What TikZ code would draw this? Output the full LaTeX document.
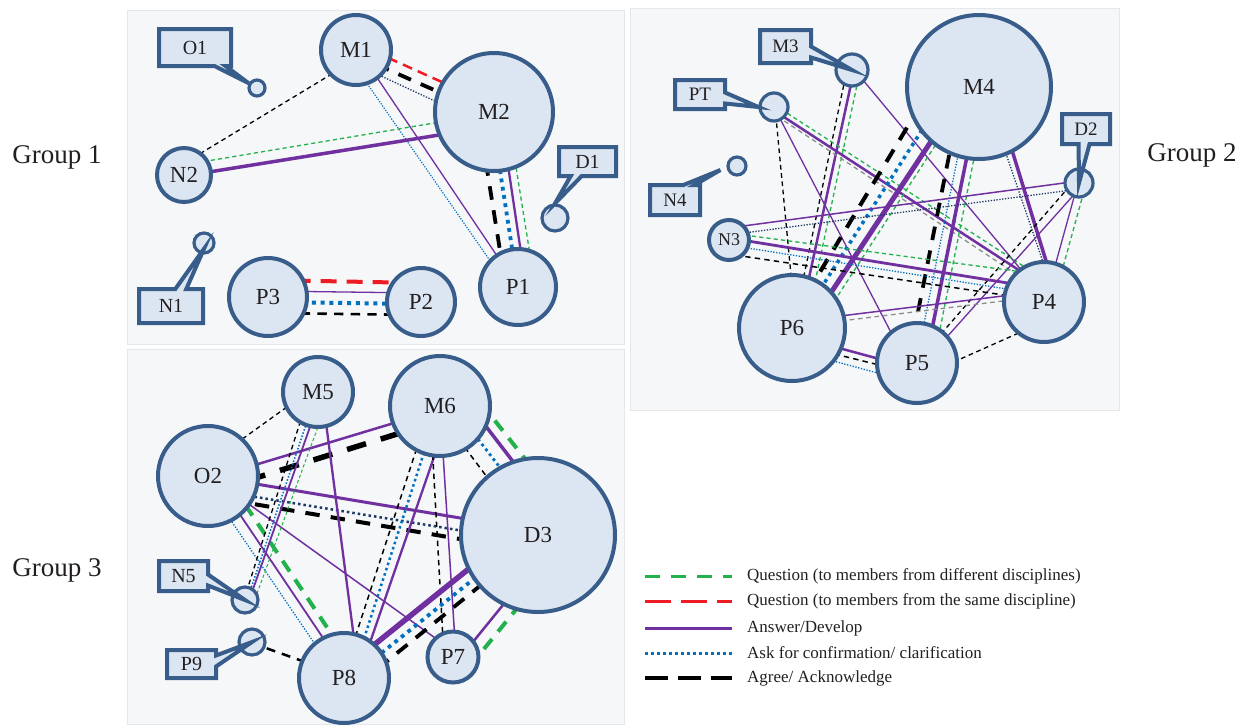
\documentclass[tikz,border=0pt]{standalone}
\usepackage{fontspec}
\setmainfont{Liberation Serif}
\usepackage{tikz}
\usetikzlibrary{calc,shapes.callouts}

\definecolor{panelbg}{RGB}{245,247,248}
\definecolor{paneledge}{RGB}{228,232,235}
\definecolor{bubfill}{RGB}{220,230,242}
\definecolor{bubedge}{RGB}{56,93,138}
\definecolor{qgreen}{RGB}{34,177,76}
\definecolor{qred}{RGB}{237,28,36}
\definecolor{apurple}{RGB}{112,48,160}
\definecolor{cblue}{RGB}{0,112,192}
\definecolor{cnavy}{RGB}{31,56,100}
\definecolor{txtgray}{RGB}{35,31,32}

\pgfdeclarelayer{panel}
\pgfdeclarelayer{links}
\pgfsetlayers{panel,links,main}

\tikzset{
  bub/.style={circle, draw=bubedge, fill=bubfill, line width=4pt, inner sep=0pt, text=txtgray, font=\fontsize{23}{25}\selectfont},
  tinybub/.style={bub, line width=3.2pt},
  callbox/.style={rectangle callout, draw=bubedge, fill=bubfill, line width=4pt, callout pointer width=11pt, inner sep=0pt, text=txtgray, font=\fontsize{20}{22}\selectfont},
  qdiff/.style={draw=qgreen, line width=#1pt, dash pattern=on 3.2*#1pt off 2.4*#1pt},
  qsame/.style={draw=qred, line width=#1pt, dash pattern=on 4*#1pt off 2.5*#1pt},
  ans/.style={draw=apurple, line width=#1pt},
  conf/.style={draw=cblue, line width=#1pt, dash pattern=on #1pt off 1.2*#1pt},
  confn/.style={draw=cnavy, line width=#1pt, dash pattern=on #1pt off 1.2*#1pt},
  agree/.style={draw=black, line width=#1pt, dash pattern=on 3.6*#1pt off 2.8*#1pt},
  agreeg/.style={draw=black!45, line width=#1pt, dash pattern=on 3.6*#1pt off 2.8*#1pt},
  grouplab/.style={font=\fontsize{27}{29}\selectfont, text=txtgray},
  legtxt/.style={anchor=west, inner sep=0pt, font=\fontsize{17}{19}\selectfont, text=txtgray}
}
% link between two members, shifted sideways at each end
\newcommand{\talk}[5]{\draw[#5] ($(#1)!#3pt!90:(#2)$) -- ($(#2)!#4pt!-90:(#1)$);}

\begin{document}
\begin{tikzpicture}[x=1pt, y=-1pt]
  \useasboundingbox (0,0) rectangle (1251,724);

  % 1. Panels
  \begin{pgfonlayer}{panel}
    \fill[panelbg, draw=paneledge, line width=1pt] (127,10) rectangle (624,344);
    \fill[panelbg, draw=paneledge, line width=1pt] (630,8) rectangle (1119,410);
    \fill[panelbg, draw=paneledge, line width=1pt] (127,349) rectangle (624,724);
  \end{pgfonlayer}

  % 2. Group 1 members
  \node[bub, minimum size=70pt] (M1) at (356,50) {M1};
  \node[bub, minimum size=118pt] (M2) at (494,112) {M2};
  \node[bub, minimum size=54pt] (N2) at (184,175) {N2};
  \node[tinybub, minimum size=16pt] (O1) at (257,88) {};
  \node[tinybub, minimum size=26pt] (D1) at (555,218) {};
  \node[tinybub, minimum size=20pt] (N1) at (204,243) {};
  \node[bub, minimum size=78pt] (P3) at (268,297) {P3};
  \node[bub, minimum size=68pt] (P2) at (421,302) {P2};
  \node[bub, minimum size=76pt] (P1) at (518,287) {P1};

  % 3. Group 2 members
  \node[tinybub, minimum size=32pt] (M3) at (852,70) {};
  \node[tinybub, minimum size=28pt] (PT) at (774,107) {};
  \node[bub, minimum size=144pt] (M4) at (979,87) {M4};
  \node[tinybub, minimum size=28pt] (D2) at (1079,183) {};
  \node[tinybub, minimum size=18pt] (N4) at (737,166) {};
  \node[bub, minimum size=40pt, font=\fontsize{18}{20}\selectfont] (N3) at (729,240) {N3};
  \node[bub, minimum size=106pt] (P6) at (792,328) {P6};
  \node[bub, minimum size=80pt] (P5) at (917,363) {P5};
  \node[bub, minimum size=80pt] (P4) at (1044,302) {P4};

  % 4. Group 3 members
  \node[bub, minimum size=70pt] (M5) at (318,392) {M5};
  \node[bub, minimum size=100pt] (M6) at (440,406) {M6};
  \node[bub, minimum size=100pt] (O2) at (208,476) {O2};
  \node[bub, minimum size=154pt] (D3) at (538,535) {D3};
  \node[tinybub, minimum size=26pt] (N5) at (245,600) {};
  \node[tinybub, minimum size=26pt] (P9) at (252,642) {};
  \node[bub, minimum size=90pt] (P8) at (344,678) {P8};
  \node[bub, minimum size=51pt] (P7) at (453,657) {P7};

  % 5. Callout labels
  \node[callbox, minimum width=72pt, minimum height=37pt, callout absolute pointer={(O1.150)}] (O1tag) at (195,47.5) {O1};
  \node[callbox, minimum width=57pt, minimum height=29pt, callout absolute pointer={(D1.north)}] (D1tag) at (587.5,161.5) {D1};
  \node[callbox, minimum width=64pt, minimum height=34pt, callout absolute pointer={($(N1.center)!0.5!(N1.south)$)}] (N1tag) at (171,306) {N1};
  \node[callbox, minimum width=51pt, minimum height=33pt, font=\fontsize{19}{21}\selectfont, callout absolute pointer={(M3.center)}] (M3tag) at (785.5,46.5) {M3};
  \node[callbox, minimum width=50pt, minimum height=29pt, font=\fontsize{19}{21}\selectfont, callout absolute pointer={(PT.west)}] (PTtag) at (700,94.5) {PT};
  \node[callbox, minimum width=50pt, minimum height=30pt, font=\fontsize{19}{21}\selectfont, callout absolute pointer={($(N4.west)+(-6,4)$)}] (N4tag) at (675,200) {N4};
  \node[callbox, minimum width=48pt, minimum height=30pt, font=\fontsize{19}{21}\selectfont, callout absolute pointer={(D2.center)}] (D2tag) at (1086,129) {D2};
  \node[callbox, minimum width=49pt, minimum height=30pt, callout absolute pointer={(N5.center)}] (N5tag) at (183.5,576) {N5};
  \node[callbox, minimum width=49pt, minimum height=28pt, callout absolute pointer={(P9.center)}] (P9tag) at (191.5,664) {P9};

  % 6. Links
  \begin{pgfonlayer}{links}
    % group 1
    \talk{M1}{M2}{6}{6}{qsame=2.5}
    \talk{M1}{M2}{-5}{-4}{agree=3.8}
    \talk{M1}{M2}{-13}{-15}{confn=1.3}
    \talk{M1}{N2}{8}{-10}{agree=1.3}
    \talk{M1}{P1}{-10}{-8}{conf=1.2}
    \talk{M1}{P1}{2}{0}{ans=1.3}
    \talk{N2}{M2}{10}{-1}{qdiff=1.3}
    \talk{N2}{M2}{-1}{-14}{ans=3.5}
    \talk{M2}{P1}{-16}{-12}{agree=3.8}
    \talk{M2}{P1}{-3}{0}{conf=3.8}
    \talk{M2}{P1}{6}{8}{ans=2.3}
    \talk{M2}{P1}{13}{17}{qdiff=1.3}
    \talk{P3}{P2}{17}{19}{qsame=4}
    \talk{P3}{P2}{6}{9}{ans=1.3}
    \talk{P3}{P2}{-5}{-2}{conf=4}
    \talk{P3}{P2}{-16}{-13}{agree=2.6}
    % group 2
    \talk{M3}{P6}{-5}{1}{agree=1.3}
    \talk{M3}{P6}{2}{6}{ans=2.5}
    \talk{M3}{P6}{8}{13}{qdiff=1.3}
    \talk{M3}{P4}{2}{3}{ans=1.3}
    \talk{PT}{P6}{1}{4}{agree=1.3}
    \talk{PT}{P5}{0}{-9}{ans=1.3}
    \talk{PT}{P4}{2}{19}{qdiff=1.3}
    \talk{PT}{P4}{-3}{13}{ans=2.5}
    \talk{PT}{P4}{-6}{8}{agreeg=1.3}
    \talk{M4}{P6}{-41}{-5}{agree=4}
    \talk{M4}{P6}{-25}{3}{conf=3.5}
    \talk{M4}{P6}{-10}{13}{ans=5}
    \talk{M4}{P6}{-5}{21}{qdiff=1.3}
    \talk{M4}{P5}{-16}{-9}{agree=3.8}
    \talk{M4}{P5}{-7}{-1}{conf=1.3}
    \talk{M4}{P5}{2}{8}{ans=3.5}
    \talk{M4}{P5}{9}{16}{qdiff=1.3}
    \talk{M4}{P4}{4}{12}{confn=1.3}
    \talk{M4}{P4}{13}{14}{ans=3.5}
    \talk{D2}{N3}{-2}{-12}{ans=1.5}
    \talk{D2}{N3}{6}{-5}{confn=1.3}
    \talk{D2}{P5}{-5}{-1}{agree=1.3}
    \talk{D2}{P5}{4}{5}{ans=1.3}
    \talk{D2}{P4}{-1}{1}{ans=1.3}
    \talk{D2}{P4}{7}{9}{qdiff=1.3}
    \talk{N3}{P4}{7}{27}{qdiff=1.3}
    \talk{N3}{P4}{2}{13}{ans=2.8}
    \talk{N3}{P4}{-5}{7}{conf=1.3}
    \talk{N3}{P4}{-14}{1}{agree=1.5}
    \talk{P6}{P4}{6}{11}{ans=1.5}
    \talk{P6}{P4}{1}{6}{agreeg=1.3}
    \talk{P6}{P5}{-7}{-6}{ans=2.5}
    \talk{P6}{P5}{-15}{-11}{agree=1.5}
    \talk{P6}{P5}{-21}{-20}{conf=1.3}
    \talk{P5}{P4}{-14}{-18}{agree=1.3}
    % group 3
    \talk{O2}{M5}{10}{6}{agree=1.3}
    \talk{O2}{M6}{-3}{-3}{ans=2.5}
    \talk{O2}{M6}{-16}{-14}{agree=5.5}
    \talk{O2}{D3}{0}{4}{ans=3}
    \talk{O2}{D3}{-13}{-8}{confn=2.5}
    \talk{O2}{D3}{-20}{-17}{agree=4}
    \talk{O2}{P8}{-6}{-5}{conf=1.3}
    \talk{O2}{P8}{5}{5}{ans=1.8}
    \talk{O2}{P8}{15}{14}{qdiff=4}
    \talk{O2}{P7}{1}{5}{ans=1.5}
    \talk{M5}{N5}{-8}{-1}{agree=1.3}
    \talk{M5}{N5}{-1}{2}{conf=1.5}
    \talk{M5}{N5}{4}{4}{ans=1.8}
    \talk{M5}{N5}{12}{9}{qdiff=1}
    \talk{M5}{P8}{4}{15}{ans=2.3}
    \talk{M6}{P8}{-9}{-2}{agree=1.5}
    \talk{M6}{P8}{-1}{7}{conf=2.5}
    \talk{M6}{P8}{11}{13}{ans=2.3}
    \talk{M6}{P7}{-10}{-9}{agree=1.5}
    \talk{M6}{P7}{0}{3}{ans=1.5}
    \talk{M6}{D3}{-5}{-6}{agree=1.5}
    \talk{M6}{D3}{10}{11}{conf=2.8}
    \talk{M6}{D3}{24}{25}{ans=3.5}
    \talk{M6}{D3}{34}{37}{qdiff=4}
    \talk{D3}{P8}{-17}{-7}{ans=5.5}
    \talk{D3}{P8}{-6}{4}{conf=3.8}
    \talk{D3}{P8}{3}{14}{agree=3.8}
    \talk{D3}{P7}{17}{6}{ans=2.5}
    \talk{D3}{P7}{30}{19}{qdiff=4}
    \talk{P9}{P8}{-1}{2}{agree=2.5}
  \end{pgfonlayer}

  % 7. Group names
  \node[grouplab] (G1) at (57,157) {Group 1};
  \node[grouplab] (G2) at (1192,155) {Group 2};
  \node[grouplab] (G3) at (57,570) {Group 3};

  % 8. Legend
  \node[legtxt] (L1) at (747,576) {Question (to members from different disciplines)};
  \node[legtxt] (L2) at (747,601.5) {Question (to members from the same discipline)};
  \node[legtxt] (L3) at (747,628) {Answer/Develop};
  \node[legtxt] (L4) at (747,653) {Ask for confirmation/ clarification};
  \node[legtxt] (L5) at (747,678) {Agree/ Acknowledge};
  \draw[qdiff=3, dash pattern=on 15pt off 11pt] ($(L1.west)+(-102,0)$) -- ($(L1.west)+(-15,0)$);
  \draw[qsame=3.5, dash pattern=on 26pt off 10pt] ($(L2.west)+(-102,0)$) -- ($(L2.west)+(-15,0)$);
  \draw[ans=3] ($(L3.west)+(-102,0)$) -- ($(L3.west)+(-15,0)$);
  \draw[conf=3, dash pattern=on 3pt off 3pt] ($(L4.west)+(-102,0)$) -- ($(L4.west)+(-15,0)$);
  \draw[agree=3.5, dash pattern=on 23pt off 10pt] ($(L5.west)+(-102,0)$) -- ($(L5.west)+(-15,0)$);
\end{tikzpicture}
\end{document}
